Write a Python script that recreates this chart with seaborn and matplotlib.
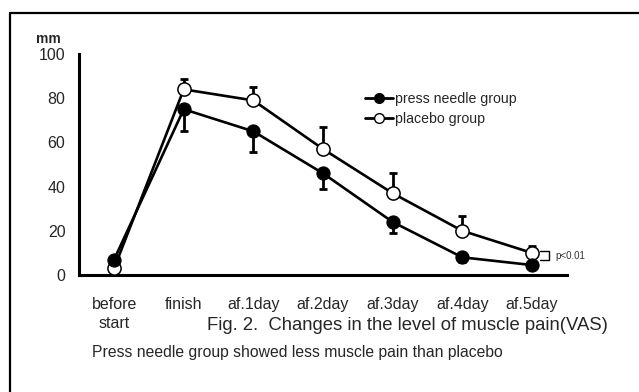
import matplotlib
matplotlib.use("Agg")
import matplotlib.pyplot as plt
import seaborn as sns
import pandas as pd
import numpy as np
from matplotlib.lines import Line2D

# data (VAS, mm)
categories = ["before\nstart", "finish", "af.1day", "af.2day", "af.3day", "af.4day", "af.5day"]
press_mean = [7, 75, 65, 46, 24, 8, 4.5]
press_sd = [2, 10, 9.5, 7, 5, 2, 1.5]
placebo_mean = [3, 84, 79, 57, 37, 20, 10]
placebo_sd = [2, 4.5, 6, 10, 9, 6.5, 3.2]
y_ticks = [0, 20, 40, 60, 80, 100]

sns.set_theme(style="white")
plt.rcParams["font.family"] = ["Liberation Sans", "DejaVu Sans"]

W, H = 639, 392
fig = plt.figure(figsize=(W / 100, H / 100), dpi=100)
ax = fig.add_axes([79.3 / W, (H - 275) / H, (566.7 - 79.3) / W, (275 - 54) / H])

pos = np.arange(len(categories))
df = pd.DataFrame({"pos": pos, "press": press_mean, "placebo": placebo_mean})

# one-sided error bars: press down, placebo up
ax.errorbar(pos, press_mean, yerr=[press_sd, np.zeros(len(pos))], fmt="none",
            ecolor="black", elinewidth=2, capsize=3, capthick=2, zorder=1)
ax.errorbar(pos, placebo_mean, yerr=[np.zeros(len(pos)), placebo_sd], fmt="none",
            ecolor="black", elinewidth=2, capsize=3, capthick=2, zorder=1)

sns.lineplot(data=df, x="pos", y="placebo", ax=ax, color="black", lw=1.9,
             marker="o", markersize=9.5, markerfacecolor="white",
             markeredgecolor="black", markeredgewidth=1.1, zorder=3)
sns.lineplot(data=df, x="pos", y="press", ax=ax, color="black", lw=1.9,
             marker="o", markersize=9.5, markerfacecolor="black",
             markeredgecolor="black", zorder=4)

ax.set_xlim(-0.5, len(categories) - 0.5)
ax.set_ylim(0, 100)
ax.set_xlabel("")
ax.set_ylabel("")
ax.set_yticks(y_ticks)
ax.set_xticks(pos)
ax.set_xticklabels(categories)
ax.set_xticks(list(pos[1:] - 0.5) + [len(categories) - 0.5], minor=True)
ax.tick_params(axis="x", which="major", length=0, pad=16, labelsize=11.5)
ax.tick_params(axis="x", which="minor", direction="in", length=4, width=1.8, color="black")
ax.tick_params(axis="y", length=0, pad=10, labelsize=11.5)
for lab in ax.get_xticklabels():
    lab.set_linespacing(1.35)

for s in ["top", "right"]:
    ax.spines[s].set_visible(False)
for s in ["left", "bottom"]:
    ax.spines[s].set_color("black")
    ax.spines[s].set_linewidth(2.2)

# legend
handles = [
    Line2D([], [], color="black", lw=2, marker="o", markersize=7,
           markerfacecolor="black", markeredgecolor="black"),
    Line2D([], [], color="black", lw=2, marker="o", markersize=7,
           markerfacecolor="white", markeredgecolor="black"),
]
fig.legend(handles, ["press needle group", "placebo group"], loc="upper left",
           bbox_to_anchor=(365 / W, 1 - 92 / H), frameon=False, fontsize=10.2,
           handlelength=1.95, handletextpad=0.2, labelspacing=0.4,
           borderaxespad=0, borderpad=0)

# significance bracket at af.5day
ax.plot([6.12, 6.24, 6.24, 6.12], [10.9, 10.9, 6.8, 6.8], color="black", lw=1,
        clip_on=False)
ax.text(6.34, 8.8, "p<0.01", fontsize=7, va="center", ha="left", color="#333333")

fig.text(36 / W, 1 - 39 / H, "mm", fontsize=10, va="center", ha="left", fontweight="bold")
fig.text(407 / W, 1 - 325 / H, "Fig. 2.  Changes in the level of muscle pain(VAS)",
         fontsize=13.3, va="center", ha="center")
fig.text(92 / W, 1 - 352 / H, "Press needle group showed less muscle pain than placebo",
         fontsize=11.3, va="center", ha="left")

# frame lines (top and left edge)
fig.add_artist(Line2D([9.5 / W, 1], [1 - 12.7 / H, 1 - 12.7 / H], color="black", lw=1.6))
fig.add_artist(Line2D([9.5 / W, 9.5 / W], [0, 1 - 12.7 / H], color="black", lw=1.6))

fig.savefig("out.png", dpi=100)
